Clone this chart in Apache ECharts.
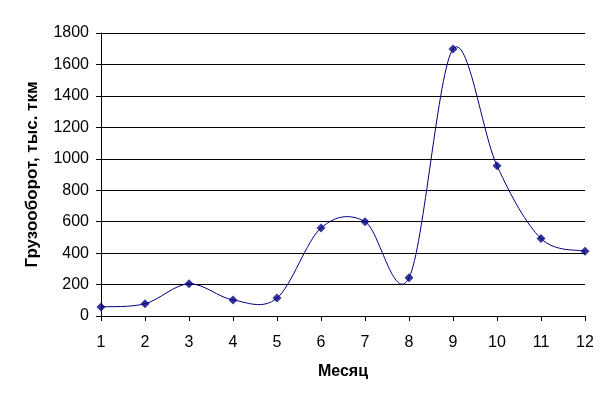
<!DOCTYPE html>
<html><head><meta charset="utf-8">
<script src="https://cdn.jsdelivr.net/npm/echarts@6/dist/echarts.min.js"></script>
<style>html,body{margin:0;padding:0;background:#fff}#c{width:615px;height:404px}</style>
</head><body><div id="c"></div>
<script>
const months = [1,2,3,4,5,6,7,8,9,10,11,12];
const turnover = [58,78,205,102,114,560,600,243,1698,955,493,412];
const yTicks = {min:0,max:1800,interval:200};
const xTitle = 'Месяц';
const yTitle = 'Грузооборот, тыс. ткм';

const chart = echarts.init(document.getElementById('c'), null, {renderer:'canvas'});
const font = '"Liberation Sans", Arial, sans-serif';
const pts = months.map((m,i)=>[m,turnover[i]]);

// Excel-like smoothed line: Catmull-Rom bezier through the data points, in the library's pixel space
function renderCurve(params, api){
  if (params.dataIndex !== 0) return null;
  const p = pts.map(d => api.coord(d));
  let d = 'M' + p[0][0] + ' ' + p[0][1];
  for (let i = 0; i < p.length - 1; i++){
    const p0 = p[Math.max(i-1,0)], p1 = p[i], p2 = p[i+1], p3 = p[Math.min(i+2,p.length-1)];
    const c1x = p1[0] + (p2[0]-p0[0])/6, c1y = p1[1] + (p2[1]-p0[1])/6;
    const c2x = p2[0] - (p3[0]-p1[0])/6, c2y = p2[1] - (p3[1]-p1[1])/6;
    d += ' C' + c1x + ' ' + c1y + ' ' + c2x + ' ' + c2y + ' ' + p2[0] + ' ' + p2[1];
  }
  return {type:'path', shape:{pathData:d}, style:{stroke:'#000080', fill:null, lineWidth:1}};
}

chart.setOption({
  animation:false,
  backgroundColor:'#fff',
  grid:{left:101,right:30,top:33,bottom:88,containLabel:false},
  xAxis:{
    type:'value',min:1,max:12,interval:1,
    name:xTitle,nameLocation:'middle',nameGap:48,
    nameTextStyle:{fontFamily:font,fontWeight:'bold',fontSize:16,color:'#000'},
    axisLine:{lineStyle:{color:'#000',width:1}},
    axisTick:{show:true,length:5,lineStyle:{color:'#000'}},
    axisLabel:{fontFamily:font,fontSize:16,color:'#000',margin:19},
    splitLine:{show:false}
  },
  yAxis:{
    type:'value',min:yTicks.min,max:yTicks.max,interval:yTicks.interval,
    name:yTitle,nameLocation:'middle',nameGap:60,
    nameTextStyle:{fontFamily:font,fontWeight:'bold',fontSize:17,color:'#000'},
    axisLine:{show:true,lineStyle:{color:'#000',width:1}},
    axisTick:{show:true,length:5,lineStyle:{color:'#000'}},
    axisLabel:{fontFamily:font,fontSize:16,color:'#000',margin:12,formatter:v=>String(v)},
    splitLine:{show:true,lineStyle:{color:'#000',width:1}}
  },
  series:[{
    type:'custom',
    renderItem:renderCurve,
    data:pts,
    clip:false,
    silent:true,
    z:2
  },{
    type:'scatter',
    data:pts,
    symbol:'diamond',symbolSize:9,
    itemStyle:{color:'#000080'},
    z:3
  }]
});
</script></body></html>
